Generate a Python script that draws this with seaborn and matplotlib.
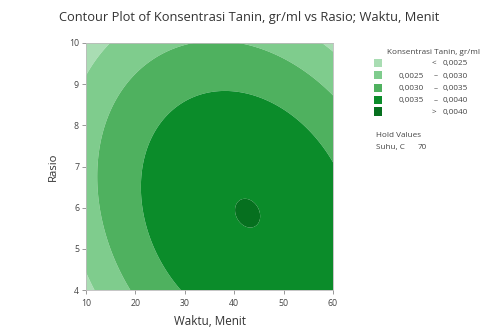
import numpy as np
import matplotlib
matplotlib.use("Agg")
import matplotlib.pyplot as plt
from matplotlib.patches import Rectangle
import seaborn as sns

# Fitted second-order model in coded units:
# u = (Waktu - 35) / 25, v = (Rasio - 7) / 3, Suhu held at 70 C
term_names = ["const", "u", "v", "u^2", "v^2", "u*v"]
coefficients = [0.0038927, 0.000339263, -0.000328291, -0.000711226, -0.000542216, -0.000263592]

waktu_range = [10, 60]
rasio_range = [4, 10]
waktu_ticks = [10, 20, 30, 40, 50, 60]
rasio_ticks = [4, 5, 6, 7, 8, 9, 10]

contour_levels = [0.0025, 0.0030, 0.0035, 0.0040]
band_colors = ["#a9ddb3", "#7fcc8d", "#4fb15f", "#0b8c2a", "#06701f"]
legend_left = ["", "0,0025", "0,0030", "0,0035", ""]
legend_sep = ["<", "\u2013", "\u2013", "\u2013", ">"]
legend_right = ["0,0025", "0,0030", "0,0035", "0,0040", "0,0040"]
hold_name = "Suhu, C"
hold_value = "70"

sns.set_theme(style="white")
plt.rcParams["font.family"] = ["Open Sans", "DejaVu Sans"]

waktu = np.linspace(waktu_range[0], waktu_range[1], 400)
rasio = np.linspace(rasio_range[0], rasio_range[1], 400)
W, R = np.meshgrid(waktu, rasio)
U = (W - 35) / 25
V = (R - 7) / 3
b = coefficients
Z = b[0] + b[1] * U + b[2] * V + b[3] * U * U + b[4] * V * V + b[5] * U * V

fig = plt.figure(figsize=(4.94, 3.30), dpi=100)
fig.patch.set_facecolor("white")
ax = fig.add_axes([86 / 494, 1 - 290 / 330, 247 / 494, 247 / 330])

bounds = [-1.0] + contour_levels + [1.0]
ax.contourf(W, R, Z, levels=bounds, colors=band_colors, antialiased=True)

ax.set_xlim(*waktu_range)
ax.set_ylim(*rasio_range)
ax.set_xticks(waktu_ticks)
ax.set_yticks(rasio_ticks)
ax.tick_params(axis="both", which="major", direction="out", length=3, width=0.6,
               color="#888888", labelsize=6.3, labelcolor="#444444",
               bottom=True, left=True)
ax.tick_params(axis="x", pad=3.5)
ax.tick_params(axis="y", pad=2)
for s in ax.spines.values():
    s.set_color("#bbbbbb")
    s.set_linewidth(0.6)

ax.set_xlabel("Waktu, Menit", fontsize=8.4, color="#333333", labelpad=5)
ax.set_ylabel("Rasio", fontsize=8.2, color="#333333", labelpad=7)

fig.text(249 / 494, 1 - 17 / 330,
         "Contour Plot of Konsentrasi Tanin, gr/ml vs Rasio; Waktu, Menit",
         ha="center", va="center", fontsize=9.3, color="#333333")

# Legend panel
lfs = 5.9
fig.text(387 / 494, 1 - 54 / 330, "Konsentrasi Tanin, gr/ml", ha="left", va="baseline",
         fontsize=lfs, color="#444444")
row_y = [63, 75.5, 88, 100, 111.5]
for i, y in enumerate(row_y):
    fy = 1 - y / 330
    base = fy - 2.2 / 330
    fig.patches.append(Rectangle((374 / 494, fy - 4 / 330), 8 / 494, 8 / 330,
                                 transform=fig.transFigure, facecolor=band_colors[i],
                                 edgecolor="none"))
    if legend_left[i]:
        fig.text(424 / 494, base, legend_left[i], ha="right", va="baseline",
                 fontsize=lfs, color="#444444")
    fig.text(436 / 494, base, legend_sep[i], ha="right" if legend_sep[i] in "<>" else "center",
             va="baseline", fontsize=lfs, color="#444444")
    fig.text(443 / 494, base, legend_right[i], ha="left", va="baseline",
             fontsize=lfs, color="#444444")

fig.text(376 / 494, 1 - 137 / 330, "Hold Values", ha="left", va="baseline",
         fontsize=lfs, color="#444444")
fig.text(376 / 494, 1 - 149 / 330, hold_name, ha="left", va="baseline",
         fontsize=lfs, color="#444444")
fig.text(418 / 494, 1 - 149 / 330, hold_value, ha="left", va="baseline",
         fontsize=lfs, color="#444444")

fig.savefig("out.png", dpi=100, facecolor="white")
